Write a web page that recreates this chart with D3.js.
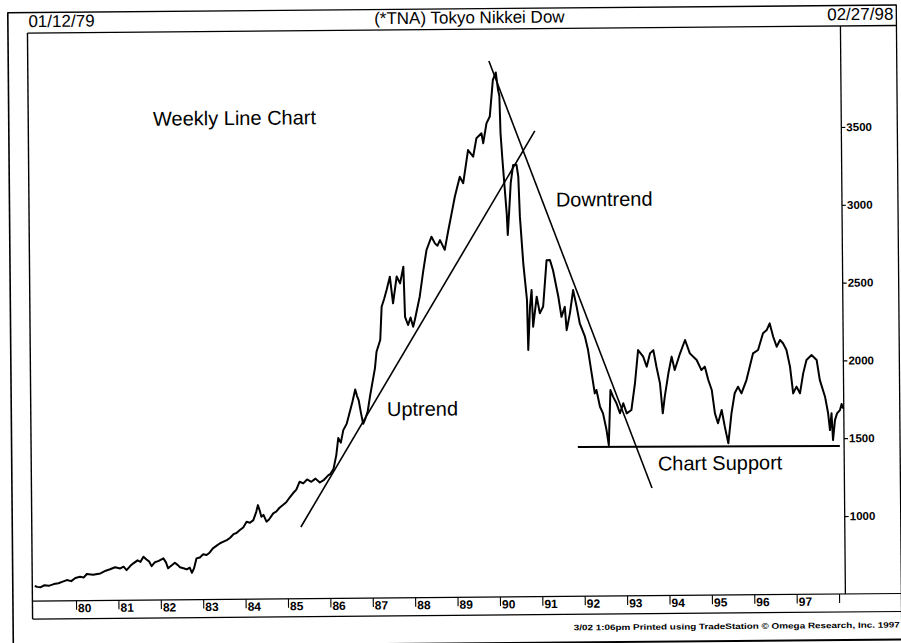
<!DOCTYPE html>
<html><head><meta charset="utf-8">
<script src="https://cdn.jsdelivr.net/npm/d3@7/dist/d3.min.js"></script>
<style>
body{margin:0;background:#fff;}
svg{display:block;}
text{font-family:"Liberation Sans",Arial,Helvetica,sans-serif;fill:#000;}
</style>
</head><body>
<svg id="c" width="901" height="643"></svg>
<script>
// ---- text ----
const startLabel = "01/12/79";
const endLabel = "02/27/98";
const chartTitle = "(*TNA) Tokyo Nikkei Dow";
const footerText = "3/02  1:06pm Printed using TradeStation \u00A9 Omega Research, Inc. 1997";

// ---- axis ticks ----
const yearTicks = [1980,1981,1982,1983,1984,1985,1986,1987,1988,1989,1990,1991,1992,1993,1994,1995,1996,1997,1998];
const yearLabels = ["80","81","82","83","84","85","86","87","88","89","90","91","92","93","94","95","96","97",""];
const priceTicks = [1000,1500,2000,2500,3000,3500];

const weekTimes = [
1979.03,1979.09,1979.16,1979.26,1979.36,1979.48,1979.59,1979.69,1979.79,1979.89,1979.99,
1980.10,1980.19,1980.26,1980.41,1980.58,1980.71,1980.81,1980.93,
1981.05,1981.13,1981.20,1981.29,1981.36,1981.46,1981.53,1981.60,1981.67,1981.73,1981.79,1981.87,1981.96,
1982.07,1982.13,1982.18,1982.26,1982.34,1982.41,1982.46,1982.56,1982.62,1982.69,1982.74,1982.79,1982.85,1982.93,
1983.01,1983.09,1983.16,1983.24,1983.33,1983.41,1983.49,1983.57,1983.65,1983.73,1983.80,1983.88,1983.96,
1984.04,1984.12,1984.20,1984.27,1984.31,1984.35,1984.39,1984.44,1984.51,1984.57,1984.67,1984.74,1984.82,1984.90,1984.98,
1985.06,1985.14,1985.22,1985.30,1985.385,1985.475,1985.575,1985.675,1985.775,1985.875,1985.975,
1986.03,1986.10,1986.17,1986.22,1986.28,1986.34,1986.42,1986.50,1986.56,1986.63,1986.67,1986.71,1986.76,1986.81,1986.86,1986.92,1986.98,
1987.10,1987.14,1987.23,1987.27,1987.33,1987.39,1987.47,1987.54,1987.63,1987.71,1987.79,1987.82,1987.89,1987.95,
1988.01,1988.05,1988.17,1988.26,1988.34,1988.46,1988.54,1988.60,1988.66,1988.77,1988.86,1988.94,
1989.02,1989.14,1989.22,1989.34,1989.46,1989.54,1989.66,1989.70,1989.78,1989.86,1989.94,
1990.01,1990.06,1990.09,1990.11,1990.15,1990.20,1990.24,1990.26,1990.30,1990.34,1990.40,1990.48,1990.52,1990.55,1990.62,1990.70,1990.72,
1990.77,1990.81,1990.84,1990.93,1991.00,1991.08,1991.17,1991.25,1991.32,1991.44,1991.51,1991.59,1991.63,1991.71,1991.79,1991.87,1991.94,
1992.06,1992.13,1992.21,1992.28,1992.32,1992.40,1992.47,1992.55,1992.60,1992.65,1992.71,1992.79,1992.87,1992.95,
1993.03,1993.14,1993.23,1993.31,1993.43,1993.51,1993.59,1993.67,1993.74,1993.82,1993.88,1993.93,
1994.02,1994.10,1994.17,1994.30,1994.42,1994.53,1994.69,1994.80,1994.88,1994.96,
1995.04,1995.11,1995.18,1995.27,1995.34,1995.42,1995.50,1995.58,1995.66,1995.74,1995.86,1995.94,
1996.02,1996.14,1996.26,1996.35,1996.42,1996.50,1996.58,1996.66,1996.73,1996.81,1996.89,1996.96,
1997.04,1997.12,1997.20,1997.28,1997.40,1997.52,1997.59,1997.71,1997.78,1997.82,1997.86,1997.89,1997.94,1997.99,
1998.06,1998.10,1998.14
];
const weekValues = [
596,590,587,600,596,607,612,622,632,625,645,
653,648,670,665,673,690,699,712,
704,715,693,720,736,755,745,778,760,748,717,742,750,
766,740,702,720,737,722,708,700,694,705,672,700,764,770,
790,785,800,828,845,860,870,880,895,918,925,944,960,
997,990,1007,1060,1103,1070,1028,1040,996,1010,1049,1060,1085,1102,1120,
1150,1177,1200,1251,1240,1265,1250,1270,1245,1262,1290,
1300,1330,1420,1530,1500,1580,1620,1700,1760,1840,1800,1770,1690,1620,1650,1700,1800,
1977,2082,2157,2371,2420,2478,2563,2392,2564,2520,2627,2305,2252,2300,
2241,2284,2433,2600,2733,2818,2775,2760,2796,2733,2860,2967,
3075,3202,3160,3373,3330,3448,3480,3416,3543,3587,3822,
3870,3758,3720,3479,3307,3114,2962,2825,2985,3158,3274,3275,3199,2942,2642,2406,2085,
2363,2470,2234,2427,2320,2363,2661,2661,2596,2425,2296,2360,2210,2318,2467,2360,2253,
2167,2081,1931,1802,1824,1716,1673,1566,1469,1823,1780,1737,1673,1737,
1672,1693,1865,2078,2035,1971,2056,2077,1970,1863,1670,1777,
1927,2034,1948,2055,2140,2054,2011,1946,1968,1882,
1817,1667,1603,1688,1581,1474,1666,1795,1837,1794,1879,1965,
2050,2072,2179,2200,2242,2156,2092,2135,2114,2070,1963,1791,
1834,1791,1919,2005,2036,2004,1876,1768,1661,1553,1661,1489,1617,1660,
1681,1720,1690
];

// ---- annotation lines (decimal year, value) ----
const uptrendLine = [[1985.32, 960], [1990.92, 3492]];
const downtrendLine = [[1989.85, 3944], [1993.61, 1191]];
const supportLine = [[1991.87, 1458], [1998.05, 1450]];

// ---- annotation labels (anchor in data coords) ----
const noteTexts = ["Weekly Line Chart", "Downtrend", "Uptrend", "Chart Support"];
const noteTimes = [1981.915, 1991.401, 1987.373, 1993.753];
const noteValues = [3547, 3005, 1668, 1303];

// ================= drawing =================
const L = 30, R = 843, T = 26, B = 594, stripB = 612, frameR = 899;
const svg = d3.select("#c");
svg.append("rect").attr("width",901).attr("height",643).attr("fill","#fff");
const g = svg.append("g").attr("transform","rotate(-0.5,843,320)");

const x = d3.scaleLinear().domain([1978.972, 1998.15]).range([L, R]);
const y = d3.scaleLinear().domain([499, 4149]).range([B, T]);

const ln = (x1,y1,x2,y2,w) => g.append("line").attr("x1",x1).attr("y1",y1).attr("x2",x2).attr("y2",y2)
  .attr("stroke","#000").attr("stroke-width",w||1.2);

// outer frame
ln(10.5,5,10.5,652,1.6);
ln(10.5,5.5,frameR,5.5,1.4);
ln(frameR,5,frameR,637,1.3);
ln(290,640,901,640,2);
// header bottom / plot top
ln(L,T,frameR,T,1.3);
// plot left border
ln(L,T,L,stripB,1.4);
// date strip
ln(L,B,frameR,B,1.2);
ln(L,stripB,frameR,stripB,1.2);

// header texts
g.append("text").attr("x",L+1).attr("y",20).attr("font-size",17).text(startLabel);
g.append("text").attr("x",472).attr("y",20).attr("font-size",17).attr("text-anchor","middle").text(chartTitle);
g.append("text").attr("x",896).attr("y",20).attr("font-size",17).attr("text-anchor","end").text(endLabel);

// right price axis
const yAxis = d3.axisRight(y).tickValues(priceTicks).tickSize(4).tickPadding(1).tickFormat(d3.format("d"));
const ya = g.append("g").attr("transform",`translate(${R},0)`).call(yAxis);
ya.select(".domain").attr("d",`M0,${T}V${B}`).attr("stroke","#000").attr("stroke-width",1.3);
ya.selectAll(".tick line").attr("stroke","#000").attr("stroke-width",1.2);
ya.selectAll(".tick text").attr("font-size",11.5).attr("font-weight","bold")
  .attr("font-family","'Liberation Sans',Arial,sans-serif").attr("fill","#000");

// bottom year axis inside the strip
const xAxis = d3.axisBottom(x).tickValues(yearTicks).tickSize(9).tickFormat((d,i)=>yearLabels[i]);
const xa = g.append("g").attr("transform",`translate(0,${B})`).call(xAxis);
xa.select(".domain").remove();
xa.selectAll(".tick line").attr("stroke","#000").attr("stroke-width",1.1);
xa.selectAll(".tick text").attr("font-size",12).attr("font-weight","bold")
  .attr("font-family","'Liberation Sans',Arial,sans-serif").attr("fill","#000")
  .attr("text-anchor","start").attr("x",1.5).attr("y",3).attr("dy","0.71em");

// footer
g.append("text").attr("x",897).attr("y",628).attr("font-size",8).attr("font-weight","bold")
  .attr("text-anchor","end").attr("textLength",326).attr("lengthAdjust","spacingAndGlyphs").text(footerText);

// price line
const pts = weekTimes.map((t,i)=>[t, weekValues[i]]);
const line = d3.line().x(d=>x(d[0])).y(d=>y(d[1]));
g.append("path").datum(pts).attr("d",line).attr("fill","none").attr("stroke","#000")
  .attr("stroke-width",2).attr("stroke-linejoin","round");

// trend lines
[uptrendLine, downtrendLine].forEach(seg=>{
  g.append("path").datum(seg).attr("d",line).attr("fill","none").attr("stroke","#000").attr("stroke-width",1.6);
});
g.append("path").datum(supportLine).attr("d",line).attr("fill","none").attr("stroke","#000").attr("stroke-width",2);

// notes
noteTexts.forEach((s,i)=>{
  g.append("text").attr("x",x(noteTimes[i])).attr("y",y(noteValues[i])).attr("font-size",20).text(s);
});
</script>
</body></html>
